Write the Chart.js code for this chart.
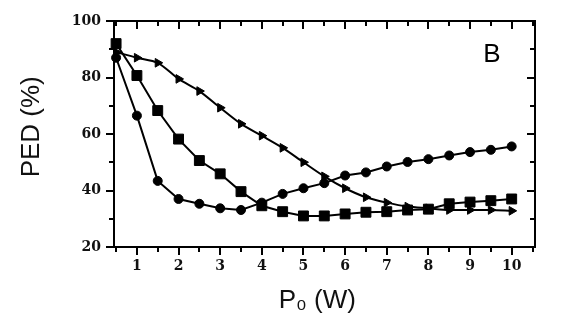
<!DOCTYPE html>
<html>
<head>
<meta charset="utf-8">
<script src="https://cdn.jsdelivr.net/npm/chart.js@4/dist/chart.umd.min.js"></script>
<style>
  html, body { margin: 0; padding: 0; background: #fff; }
  #wrap { width: 566px; height: 328px; }
</style>
</head>
<body>
<div id="wrap"><canvas id="chart" width="566" height="328"></canvas></div>
<script>
const power = [0.5, 1, 1.5, 2, 2.5, 3, 3.5, 4, 4.5, 5, 5.5, 6, 6.5, 7, 7.5, 8, 8.5, 9, 9.5, 10];
const circleVals = [87, 66.5, 43.4, 37, 35.3, 33.7, 33.1, 35.7, 38.8, 40.8, 42.6, 45.3, 46.4, 48.5, 50.1, 51.1, 52.4, 53.6, 54.4, 55.6];
const squareVals = [92, 80.7, 68.3, 58.2, 50.6, 45.9, 39.6, 34.6, 32.5, 31.0, 31.0, 31.7, 32.3, 32.5, 33.1, 33.4, 35.3, 35.9, 36.4, 37.0];
const triangleVals = [89, 87, 85.2, 79.5, 75.2, 69.3, 63.6, 59.4, 55.1, 50.0, 45.0, 40.8, 37.6, 35.7, 34.3, 33.7, 33.1, 33.1, 33.1, 32.8];
const xTickLabels = [1, 2, 3, 4, 5, 6, 7, 8, 9, 10];
const yTickLabels = [20, 40, 60, 80, 100];
const panelLabel = 'B';

const toPoints = vals => vals.map((v, i) => ({ x: power[i], y: v }));

const tickFont = { family: 'DejaVu Serif', weight: 'bold', size: 14 };
const titleFont = { family: 'Liberation Sans', size: 26 };

// frame with ticks: outside on bottom/left, inside on top/right
const framePlugin = {
    id: 'frame',
    afterDraw(chart) {
        const { ctx, chartArea: a, scales } = chart;
        ctx.save();
        ctx.strokeStyle = '#000';
        ctx.lineWidth = 2;
        ctx.strokeRect(a.left, a.top, a.right - a.left, a.bottom - a.top);
        ctx.beginPath();
        scales.x.ticks.forEach(t => {
            const px = Math.round(scales.x.getPixelForValue(t.value));
            const len = Number.isInteger(t.value) ? 8 : 5;
            ctx.moveTo(px, a.bottom); ctx.lineTo(px, a.bottom + len);
            ctx.moveTo(px, a.top); ctx.lineTo(px, a.top + len);
        });
        scales.y.ticks.forEach(t => {
            const py = Math.round(scales.y.getPixelForValue(t.value));
            const len = t.value % 20 === 0 ? 8 : 5;
            ctx.moveTo(a.left, py); ctx.lineTo(a.left - len, py);
            ctx.moveTo(a.right, py); ctx.lineTo(a.right - len, py);
        });
        ctx.stroke();
        ctx.fillStyle = '#000';
        ctx.font = '26px "Liberation Sans"';
        ctx.textAlign = 'center';
        ctx.textBaseline = 'middle';
        ctx.fillText(panelLabel, a.right - 43, a.top + 34);
        ctx.restore();
    }
};

const common = {
    borderColor: '#000',
    backgroundColor: '#000',
    pointBackgroundColor: '#000',
    pointBorderColor: '#000',
    borderWidth: 2,
    pointBorderWidth: 1,
    clip: false
};

new Chart(document.getElementById('chart'), {
    type: 'line',
    data: {
        datasets: [
            { ...common, label: 'circles', data: toPoints(circleVals), pointStyle: 'circle', pointRadius: 4.5, tension: 0 },
            { ...common, label: 'squares', data: toPoints(squareVals), pointStyle: 'rect', pointRadius: 7, tension: 0 },
            { ...common, label: 'triangles', data: toPoints(triangleVals), pointStyle: 'triangle', pointRotation: 90, pointRadius: 5, tension: 0.3 }
        ]
    },
    options: {
        responsive: false,
        animation: false,
        layout: { padding: { top: 21, right: 31, bottom: 0, left: 0 } },
        plugins: { legend: { display: false }, tooltip: { enabled: false } },
        scales: {
            x: {
                type: 'linear',
                min: 0.45,
                max: 10.56,
                afterBuildTicks(scale) {
                    const ticks = [];
                    for (let v = 0.5; v <= 10.5; v += 0.5) ticks.push({ value: v });
                    scale.ticks = ticks;
                },
                afterFit(scale) { scale.height = 81; },
                grid: { display: true, drawOnChartArea: false, drawTicks: true, tickLength: 8, color: 'rgba(0,0,0,0)' },
                border: { display: false },
                ticks: {
                    autoSkip: false,
                    maxRotation: 0,
                    padding: 3,
                    color: '#111',
                    font: tickFont,
                    callback: v => xTickLabels.includes(v) ? String(v) : ''
                },
                title: { display: true, text: 'P₀ (W)  ', color: '#111', font: titleFont, padding: { top: 0, bottom: 12 } }
            },
            y: {
                min: 20,
                max: 100,
                afterBuildTicks(scale) {
                    const ticks = [];
                    for (let v = 20; v <= 100; v += 10) ticks.push({ value: v });
                    scale.ticks = ticks;
                },
                afterFit(scale) { scale.width = 114; },
                grid: { display: true, drawOnChartArea: false, drawTicks: true, tickLength: 6, color: 'rgba(0,0,0,0)' },
                border: { display: false },
                ticks: {
                    autoSkip: false,
                    padding: 7,
                    color: '#111',
                    font: tickFont,
                    callback: v => yTickLabels.includes(v) ? String(v) : ''
                },
                title: { display: true, text: '  PED (%)', color: '#111', font: titleFont, padding: { top: 16, bottom: 0 } }
            }
        }
    },
    plugins: [framePlugin]
});
</script>
</body>
</html>
